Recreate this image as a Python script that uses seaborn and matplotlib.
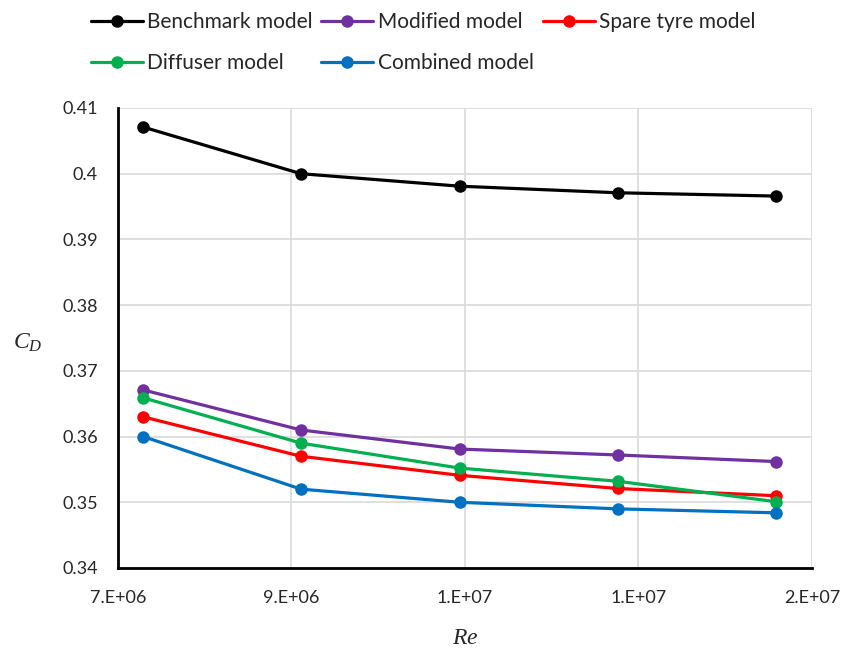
import math
import numpy as np
import pandas as pd
import matplotlib
matplotlib.use("Agg")
import matplotlib.pyplot as plt
from matplotlib.ticker import FuncFormatter, FixedLocator, MultipleLocator
import seaborn as sns

re_vals = [7.29e6, 9.11e6, 1.094e7, 1.276e7, 1.458e7]
benchmark = [0.4071, 0.400, 0.3981, 0.3971, 0.3966]
modified = [0.3671, 0.361, 0.3581, 0.3572, 0.3562]
spare_tyre = [0.363, 0.357, 0.3541, 0.3521, 0.351]
diffuser = [0.3659, 0.359, 0.3552, 0.3532, 0.3501]
combined = [0.360, 0.352, 0.350, 0.349, 0.3484]
x_ticks = [7e6, 9e6, 1.1e7, 1.3e7, 1.5e7]

names = ["Benchmark model", "Modified model", "Spare tyre model", "Diffuser model", "Combined model"]
series = [benchmark, modified, spare_tyre, diffuser, combined]
colors = ["#000000", "#7030A0", "#FF0000", "#00B050", "#0070C0"]

sns.set_style("white")
plt.rcParams['font.family'] = ['Lato', 'DejaVu Sans']
plt.rcParams['mathtext.fontset'] = 'custom'
plt.rcParams['mathtext.it'] = 'Liberation Serif:italic'
plt.rcParams['mathtext.rm'] = 'Liberation Serif'

fig = plt.figure(figsize=(8.45, 6.48), dpi=100)
ax = fig.add_axes([118 / 845, 1 - 568 / 648, 694 / 845, 460 / 648])

for name, vals, c in zip(names, series, colors):
    df = pd.DataFrame({"Re": re_vals, "CD": vals})
    sns.lineplot(data=df, x="Re", y="CD", ax=ax, color=c, linewidth=2.3,
                 marker="o", markersize=9, markeredgewidth=0, label=name)

ax.set_xlim(x_ticks[0], x_ticks[-1])
ax.set_ylim(0.34, 0.41)
ax.xaxis.set_major_locator(FixedLocator(x_ticks))
ax.yaxis.set_major_locator(MultipleLocator(0.01))

def xfmt(x, pos):
    if x == 0:
        return "0"
    e = int(math.floor(math.log10(abs(x))))
    m = x / 10 ** e
    mi = int(math.floor(m + 0.5 + 1e-9))
    if mi >= 10:
        mi //= 10
        e += 1
    return f"{mi}.E+{e:02d}"

ax.xaxis.set_major_formatter(FuncFormatter(xfmt))
ax.yaxis.set_major_formatter(FuncFormatter(lambda v, p: f"{round(v, 4):g}"))

ax.grid(True, color="#D9D9D9", linewidth=1.2)
ax.set_axisbelow(True)
for s in ["top", "right"]:
    ax.spines[s].set_visible(False)
for s in ["left", "bottom"]:
    ax.spines[s].set_color("black")
    ax.spines[s].set_linewidth(2)
ax.tick_params(axis="both", length=0, labelsize=13)
ax.tick_params(axis="x", pad=16)
ax.tick_params(axis="y", pad=14.5)

ax.set_xlabel("$Re$", fontsize=17)
ax.xaxis.set_label_coords(0.5, -0.128)
ax.set_ylabel("$C_D$", fontsize=17, rotation=0, ha="center", va="center")
ax.yaxis.set_label_coords(-0.13, 0.49)

handles, labels = ax.get_legend_handles_labels()
ax.get_legend().remove()
order = [0, 3, 1, 4, 2]
fig.legend([handles[i] for i in order], [labels[i] for i in order],
           ncol=3, loc="upper left", bbox_to_anchor=(0.085, 1.01),
           frameon=False, fontsize=15, handlelength=2.5, handletextpad=0.2,
           columnspacing=0.43, labelspacing=1.0)

fig.savefig("out.png", dpi=100)
